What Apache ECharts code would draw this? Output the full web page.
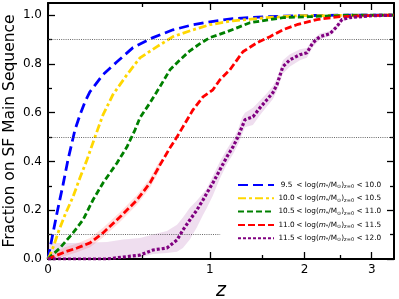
<!DOCTYPE html>
<html><head><meta charset="utf-8">
<script src="https://cdn.jsdelivr.net/npm/echarts@6/dist/echarts.min.js"></script>
<style>html,body{margin:0;padding:0;background:#fff}#c{width:399px;height:299px}</style>
</head><body><div id="c"></div>
<script>
// ---- data (x = redshift z, y = fraction on SF main sequence) ----
const massLow  = ['9.5', '10.0', '10.5', '11.0', '11.5'];
const massHigh = ['10.0', '10.5', '11.0', '11.5', '12.0'];
const seriesColors = ['#0000FF', '#FFD700', '#008000', '#FF0000', '#800080'];

const zBlue = [0, 0.0173, 0.0393, 0.0663, 0.0893, 0.1035, 0.1225, 0.1467, 0.1718, 0.197, 0.2655, 0.3437, 0.439, 0.5677, 0.7077, 0.8606, 1.0, 1.208, 1.553, 1.94, 2.49, 3.4];
const fBlue = [0, 0.086, 0.189, 0.304, 0.407, 0.46, 0.53, 0.591, 0.645, 0.686, 0.756, 0.809, 0.867, 0.908, 0.94, 0.961, 0.973, 0.986, 0.994, 0.998, 1.0, 1.0];

const zGold = [0, 0.0086, 0.026, 0.0437, 0.0755, 0.1129, 0.1467, 0.1817, 0.2231, 0.2655, 0.3204, 0.4024, 0.4825, 0.595, 0.7077, 0.8606, 1.0, 1.208, 1.553, 1.94, 3.4];
const fGold = [0, 0.016, 0.057, 0.107, 0.181, 0.255, 0.333, 0.407, 0.501, 0.591, 0.674, 0.756, 0.825, 0.871, 0.912, 0.94, 0.961, 0.977, 0.99, 0.998, 1.0];

const zGreen = [0, 0.0173, 0.0527, 0.1129, 0.1614, 0.2123, 0.2655, 0.3437, 0.4024, 0.4517, 0.4825, 0.548, 0.6155, 0.686, 0.76, 0.836, 0.917, 1.0, 1.151, 1.374, 1.734, 2.069, 2.642, 3.4];
const fGreen = [0, 0.016, 0.045, 0.107, 0.16, 0.242, 0.312, 0.394, 0.46, 0.53, 0.579, 0.641, 0.707, 0.776, 0.817, 0.854, 0.883, 0.908, 0.932, 0.969, 0.99, 0.994, 1.0, 1.0];

const zRed = [0, 0.0304, 0.0755, 0.1322, 0.197, 0.2655, 0.3608, 0.4636, 0.548, 0.6155, 0.686, 0.7375, 0.782, 0.8606, 0.942, 1.026, 1.088, 1.179, 1.304, 1.447, 1.586, 1.734, 1.903, 2.162, 2.49, 2.917, 3.4];
const fRed = [0, 0.012, 0.029, 0.045, 0.066, 0.107, 0.172, 0.242, 0.312, 0.386, 0.456, 0.501, 0.542, 0.612, 0.665, 0.694, 0.735, 0.776, 0.85, 0.887, 0.912, 0.94, 0.961, 0.982, 0.994, 0.998, 1.0];

const zPurple = [0, 0.1129, 0.2873, 0.3785, 0.4825, 0.5677, 0.664, 0.7375, 0.782, 0.8356, 0.892, 0.942, 0.975, 1.026, 1.088, 1.151, 1.208, 1.256, 1.295, 1.324, 1.405, 1.478, 1.553, 1.619, 1.665, 1.734, 1.818, 1.941, 2.03, 2.109, 2.203, 2.344, 2.445, 2.52, 2.642, 3.019, 3.4];
const fPurple = [0, 0, 0, 0.008, 0.016, 0.037, 0.045, 0.078, 0.119, 0.16, 0.201, 0.242, 0.271, 0.312, 0.366, 0.419, 0.46, 0.501, 0.542, 0.571, 0.583, 0.62, 0.653, 0.682, 0.715, 0.789, 0.817, 0.838, 0.846, 0.887, 0.912, 0.924, 0.953, 0.982, 0.99, 0.998, 1.0];
const fPurpleLow  = [0, 0, 0, 0, 0.005, 0.02, 0.025, 0.03, 0.045, 0.08, 0.13, 0.18, 0.21, 0.26, 0.33, 0.39, 0.43, 0.47, 0.51, 0.54, 0.55, 0.59, 0.625, 0.655, 0.69, 0.76, 0.79, 0.815, 0.825, 0.87, 0.9, 0.915, 0.945, 0.975, 0.985, 0.995, 1.0];
const fPurpleHigh = [0.066, 0.066, 0.07, 0.08, 0.086, 0.1, 0.115, 0.14, 0.17, 0.21, 0.24, 0.27, 0.29, 0.34, 0.4, 0.45, 0.49, 0.53, 0.58, 0.6, 0.62, 0.65, 0.68, 0.71, 0.74, 0.815, 0.84, 0.86, 0.865, 0.9, 0.925, 0.935, 0.96, 0.99, 0.995, 1.0, 1.0];

const zRedBand    = [0, 0.0304, 0.0755, 0.1322, 0.197, 0.2655, 0.3608, 0.4636, 0.548, 0.6155];
const fRedLow     = [0, 0, 0.012, 0.028, 0.048, 0.088, 0.152, 0.222, 0.292, 0.366];
const fRedHigh    = [0.02, 0.03, 0.048, 0.064, 0.086, 0.128, 0.192, 0.262, 0.332, 0.406];

const xTickLabels = [0, 1, 2, 3];
const xMinorTicks = [0.5, 1.5, 2.5];
const yTickLabels = [0, 0.2, 0.4, 0.6, 0.8, 1.0];
const yMinorTicks = [0.1, 0.3, 0.5, 0.7, 0.9];
const refLevels = [0.9, 0.5, 0.1];
const refEndZ   = [3.4, 3.4, 1.09];
const zMax = 3.4;
const yMax = 1.05;

// ---- build ----
const X = z => Math.log10(1 + z);
const font = 'DejaVu Sans';
const seriesNames = massLow.map((lo, i) => lo + '-' + massHigh[i]);
const zs = [zBlue, zGold, zGreen, zRed, zPurple];
const fs = [fBlue, fGold, fGreen, fRed, fPurple];
const dashes = [[10, 5], [8, 3, 3, 3], [6, 3], [7, 3], [3, 2]];
const widths = [2.8, 2.8, 2.8, 2.8, 3.2];

function xAxisDef(pos, vals, len, line, labels) {
  return {
    type: 'value', min: 0, max: X(zMax), position: pos,
    axisLine: { show: line, onZero: false, lineStyle: { color: '#000', width: 2 } },
    axisTick: { show: true, inside: true, length: len, customValues: vals.map(X), lineStyle: { color: '#000', width: 1.3 } },
    axisLabel: labels ? { show: true, customValues: vals.map(X), formatter: v => String(Math.round(Math.pow(10, v) - 1)), color: '#000', fontSize: 12, fontFamily: font, margin: 5 } : { show: false },
    splitLine: { show: false },
    name: labels ? 'z' : '', nameLocation: 'middle', nameGap: 23, nameMoveOverlap: false,
    nameTextStyle: { fontStyle: 'italic', fontSize: 19, fontFamily: font, color: '#000' }
  };
}
function yAxisDef(pos, vals, len, line, labels) {
  return {
    type: 'value', min: 0, max: yMax, position: pos,
    axisLine: { show: line, onZero: false, lineStyle: { color: '#000', width: 2 } },
    axisTick: { show: true, inside: true, length: len, customValues: vals, lineStyle: { color: '#000', width: 1.3 } },
    axisLabel: labels ? { show: true, customValues: vals, formatter: v => v.toFixed(1), color: '#000', fontSize: 12, fontFamily: font, margin: 6 } : { show: false },
    splitLine: { show: false },
    name: labels ? 'Fraction on SF Main Sequence' : '', nameLocation: 'middle', nameGap: 30, nameMoveOverlap: false,
    nameTextStyle: { fontSize: 15.5, fontFamily: font, color: '#000' }
  };
}

function bandSeries(zArr, lo, hi, color) {
  return {
    type: 'custom', xAxisIndex: 0, yAxisIndex: 0, silent: true, z: 1, clip: true,
    data: [[0, 0]],
    renderItem: (params, api) => {
      const pts = [];
      for (let i = 0; i < zArr.length; i++) pts.push(api.coord([X(zArr[i]), hi[i]]));
      for (let i = zArr.length - 1; i >= 0; i--) pts.push(api.coord([X(zArr[i]), lo[i]]));
      return { type: 'polygon', shape: { points: pts }, style: { fill: color } };
    }
  };
}

const series = [
  bandSeries(zPurple, fPurpleLow, fPurpleHigh, 'rgba(128,0,128,0.13)'),
  bandSeries(zRedBand, fRedLow, fRedHigh, 'rgba(255,0,0,0.12)')
];
seriesNames.forEach((name, i) => {
  const s = {
    name, type: 'line', xAxisIndex: 0, yAxisIndex: 0, z: 3 + i,
    symbol: 'none', showSymbol: false, smooth: false, animation: false,
    data: zs[i].map((z, k) => [X(z), fs[i][k]]),
    lineStyle: { color: seriesColors[i], width: widths[i], type: dashes[i] },
    itemStyle: { color: seriesColors[i] }
  };
  if (i === 0) {
    s.markLine = {
      symbol: 'none', silent: true, animation: false, label: { show: false },
      lineStyle: { color: '#444', width: 0.8, type: [1, 1.2] },
      data: refLevels.map((v, k) => [{ coord: [0, v] }, { coord: [X(refEndZ[k]), v] }])
    };
  }
  series.push(s);
});

const chart = echarts.init(document.getElementById('c'), null, { renderer: 'canvas' });
chart.setOption({
  animation: false,
  backgroundColor: '#fff',
  grid: { left: 48, right: 5, top: 3, bottom: 40, outerBoundsMode: 'none', containLabel: false },
  xAxis: [
    xAxisDef('bottom', xTickLabels, 7, true, true),
    xAxisDef('bottom', xMinorTicks, 4, false, false),
    xAxisDef('top', xTickLabels, 7, true, false),
    xAxisDef('top', xMinorTicks, 4, false, false)
  ],
  yAxis: [
    yAxisDef('left', yTickLabels, 7, true, true),
    yAxisDef('left', yMinorTicks, 4, false, false),
    yAxisDef('right', yTickLabels, 7, true, false),
    yAxisDef('right', yMinorTicks, 4, false, false)
  ],
  legend: {
    orient: 'vertical', left: 237, top: 181, padding: 0, itemWidth: 36, itemHeight: 10, itemGap: 4.8,
    data: seriesNames, selectedMode: false,
    itemStyle: { opacity: 0 },
    formatter: name => {
      const i = seriesNames.indexOf(name);
      return `{lo|${massLow[i]}}{t| < log(}{i|m}{s|*}{t|/M}{s|⊙}{t|)}{s|z=0}{t| < ${massHigh[i]}}`;
    },
    textStyle: {
      fontFamily: font, fontSize: 7.3, color: '#000',
      rich: {
        lo: { fontFamily: font, fontSize: 7.3, width: 15, align: 'right' },
        t: { fontFamily: font, fontSize: 7.3 },
        i: { fontFamily: font, fontSize: 7.3, fontStyle: 'italic' },
        s: { fontFamily: font, fontSize: 5, verticalAlign: 'bottom', padding: [4, 0, 0, 0] }
      }
    }
  },
  series
});
</script>
</body></html>
